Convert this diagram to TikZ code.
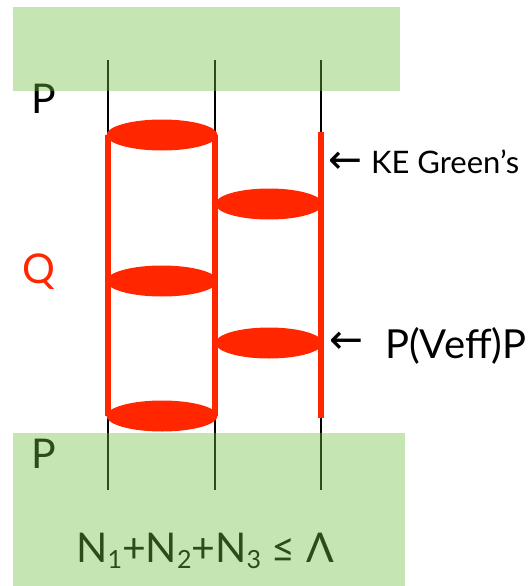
\documentclass[tikz,border=0pt]{standalone}
\usepackage{fontspec}
\setmainfont{Lato}
\newfontfamily\arrowfont{DejaVu Sans}
\usepackage{xcolor}
\usepackage{graphicx}
\usetikzlibrary{shapes.geometric}

\definecolor{diagred}{RGB}{255,38,0}
\definecolor{bandgreen}{RGB}{110,190,62}

\newcommand{\idx}[1]{\raisebox{-0.3ex}{\fontsize{25}{25}\selectfont #1}}
\newcommand{\larr}{\resizebox{34pt}{!}{\arrowfont ←}}

\begin{document}
\begin{tikzpicture}[x=1pt, y=-1pt,
    every node/.style={inner sep=0pt, outer sep=0pt},
    leg/.style={line width=1.6pt, black},
    redleg/.style={line width=5.5pt, diagred},
    rung/.style={ellipse, fill=diagred, minimum height=31pt},
    band/.style={fill=bandgreen, opacity=0.4},
    big/.style={font=\fontsize{41}{41}\selectfont}]
    \useasboundingbox (0,0) rectangle (529,586);

    % three particle lines
    \foreach \x in {108, 215, 321} {
        \draw[leg] (\x,60) -- (\x,490);
    }

    % red Q-space parts
    \draw[redleg] (108,135) -- (108,416);
    \draw[redleg] (215,135) -- (215,416);
    \draw[redleg] (321,132) -- (321,418);

    % interaction rungs
    \foreach \n/\x/\y/\w in {r1/162/135/111, r2/162/281/111, r3/162/416/111,
                             r4/269/204/107, r5/269/343/107} {
        \node[rung, minimum width=\w pt] (\n) at (\x,\y) {};
    }

    % labels
    \node[big, anchor=base west] (ptop) at (31,113) {P};
    \node[big, anchor=base west, text=diagred] (qlabel) at (22,283) {Q};
    \node[big, anchor=base west] (pbot) at (31,468) {P};
    \node[anchor=base west, font=\fontsize{31}{31}\selectfont] (kelabel) at (328,173)
        {\raisebox{0pt}{\larr}\hspace{9pt}KE Green’s};
    \node[anchor=base west, font=\fontsize{40}{40}\selectfont] (veflabel) at (329,358)
        {\raisebox{5pt}{\larr}\hspace{22pt}P(Veff)P};
    \node[big, anchor=base] (cutoff) at (205,562)
        {N\idx{1}+N\idx{2}+N\idx{3} ≤ Λ};

    % P-space bands
    \fill[band] (13,7) rectangle (400,91);
    \fill[band] (13,433) rectangle (405,586);
\end{tikzpicture}
\end{document}
